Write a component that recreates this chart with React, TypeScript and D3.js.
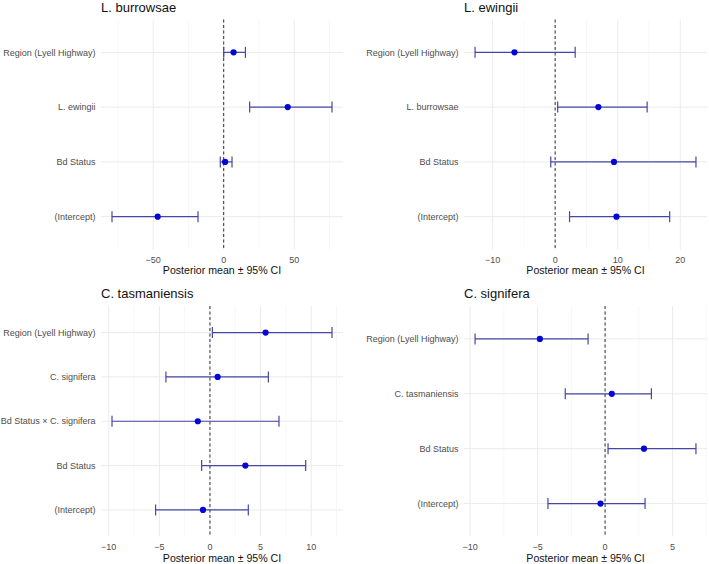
import React from "react";
import * as d3 from "d3";

// ---- Data ----
const burrowsaeTerms = ["Region (Lyell Highway)", "L. ewingii", "Bd Status", "(Intercept)"];
const burrowsaeMean = [7, 45.4, 1, -46.8];
const burrowsaeLo = [0, 18.4, -2.4, -79.2];
const burrowsaeHi = [15.4, 76.8, 5.9, -18.2];

const ewingiiTerms = ["Region (Lyell Highway)", "L. burrowsae", "Bd Status", "(Intercept)"];
const ewingiiMean = [-6.5, 6.9, 9.4, 9.8];
const ewingiiLo = [-12.8, 0.4, -0.7, 2.3];
const ewingiiHi = [3.2, 14.7, 22.5, 18.3];

const tasmaniensisTerms = ["Region (Lyell Highway)", "C. signifera", "Bd Status × C. signifera", "Bd Status", "(Intercept)"];
const tasmaniensisMean = [5.5, 0.76, -1.2, 3.5, -0.69];
const tasmaniensisLo = [0.24, -4.35, -9.68, -0.82, -5.37];
const tasmaniensisHi = [12.06, 5.77, 6.82, 9.46, 3.79];

const signiferaTerms = ["Region (Lyell Highway)", "C. tasmaniensis", "Bd Status", "(Intercept)"];
const signiferaMean = [-4.83, 0.5, 2.88, -0.34];
const signiferaLo = [-9.63, -2.95, 0.22, -4.23];
const signiferaHi = [-1.26, 3.43, 6.73, 2.96];

const titles = ["L. burrowsae", "L. ewingii", "C. tasmaniensis", "C. signifera"];
const xAxisTitle = "Posterior mean ± 95% CI";
const tickValues1 = [-50, 0, 50];
const tickValues2 = [-10, 0, 10, 20];
const tickValues3 = [-10, -5, 0, 5, 10];
const tickValues4 = [-10, -5, 0, 5];

const FONT = "'Liberation Sans', Arial, Helvetica, sans-serif";

type PanelProps = {
  title: string;
  terms: string[];
  mean: number[];
  lo: number[];
  hi: number[];
  ticks: number[];
  x0: number;
  x1: number;
  y0: number;
  y1: number;
  titleY: number;
  tickY: number;
  axisTitleY: number;
};

const fmt = (v: number) => (v < 0 ? "\u2212" + Math.abs(v) : String(v));

function Panel(p: PanelProps) {
  const minV = d3.min(p.lo) as number;
  const maxV = d3.max(p.hi) as number;
  const pad = (maxV - minV) * 0.05;
  const x = d3.scaleLinear().domain([minV - pad, maxV + pad]).range([p.x0, p.x1]);
  const y = d3.scalePoint<string>().domain(p.terms).range([p.y0, p.y1]).padding(0.6);
  const [d0, d1] = x.domain();
  const step = p.ticks[1] - p.ticks[0];
  const minor: number[] = [];
  for (let v = p.ticks[0] - step / 2; v <= d1; v += step) {
    if (v >= d0) minor.push(v);
  }
  const cap = 5.5;
  return (
    <g>
      {minor.map((v, i) => (
        <line key={"mi" + i} x1={x(v)} x2={x(v)} y1={p.y0} y2={p.y1} stroke="#f1f1f1" strokeWidth={0.6} />
      ))}
      {p.ticks.map((v, i) => (
        <line key={"ma" + i} x1={x(v)} x2={x(v)} y1={p.y0} y2={p.y1} stroke="#ebebeb" strokeWidth={1} />
      ))}
      {p.terms.map((t, i) => (
        <line key={"hy" + i} x1={p.x0} x2={p.x1} y1={y(t)} y2={y(t)} stroke="#ebebeb" strokeWidth={1} />
      ))}
      <line x1={x(0)} x2={x(0)} y1={p.y0} y2={p.y1} stroke="#333" strokeWidth={1} strokeDasharray="3,2.5" />
      {p.terms.map((t, i) => {
        const yy = y(t) as number;
        return (
          <g key={"eb" + i} stroke="#4646a6" strokeWidth={1.2}>
            <line x1={x(p.lo[i])} x2={x(p.hi[i])} y1={yy} y2={yy} />
            <line x1={x(p.lo[i])} x2={x(p.lo[i])} y1={yy - cap} y2={yy + cap} />
            <line x1={x(p.hi[i])} x2={x(p.hi[i])} y1={yy - cap} y2={yy + cap} />
          </g>
        );
      })}
      {p.terms.map((t, i) => (
        <circle key={"pt" + i} cx={x(p.mean[i])} cy={y(t) as number} r={3.1} fill="#0505d6" />
      ))}
      {p.terms.map((t, i) => (
        <text key={"yl" + i} x={p.x0 - 5.5} y={(y(t) as number) + 3.2} textAnchor="end" fontSize={9} fill="#4d4d4d" fontFamily={FONT}>
          {t}
        </text>
      ))}
      {p.ticks.map((v, i) => (
        <text key={"xl" + i} x={x(v)} y={p.tickY} textAnchor="middle" fontSize={9} fill="#4d4d4d" fontFamily={FONT}>
          {fmt(v)}
        </text>
      ))}
      <text x={(p.x0 + p.x1) / 2} y={p.axisTitleY} textAnchor="middle" fontSize={10.6} fill="#111" fontFamily={FONT}>
        {xAxisTitle}
      </text>
      <text x={p.x0} y={p.titleY} fontSize={13} fill="#111" fontFamily={FONT}>
        {p.title}
      </text>
    </g>
  );
}

export default function App() {
  return (
    <svg width={709} height={564} style={{ position: "absolute", left: 0, top: 0, background: "#fff" }}>
      <rect x={0} y={0} width={709} height={564} fill="#fff" />
      <Panel title={titles[0]} terms={burrowsaeTerms} mean={burrowsaeMean} lo={burrowsaeLo} hi={burrowsaeHi}
        ticks={tickValues1} x0={101} x1={343} y0={19.5} y1={249.5} titleY={12} tickY={262.5} axisTitleY={274.3} />
      <Panel title={titles[1]} terms={ewingiiTerms} mean={ewingiiMean} lo={ewingiiLo} hi={ewingiiHi}
        ticks={tickValues2} x0={464} x1={707} y0={19.5} y1={249.5} titleY={12} tickY={262.5} axisTitleY={274.3} />
      <Panel title={titles[2]} terms={tasmaniensisTerms} mean={tasmaniensisMean} lo={tasmaniensisLo} hi={tasmaniensisHi}
        ticks={tickValues3} x0={101} x1={343} y0={306} y1={536.5} titleY={298} tickY={549.5} axisTitleY={561.7} />
      <Panel title={titles[3]} terms={signiferaTerms} mean={signiferaMean} lo={signiferaLo} hi={signiferaHi}
        ticks={tickValues4} x0={464} x1={707} y0={306} y1={536.5} titleY={298} tickY={549.5} axisTitleY={561.7} />
    </svg>
  );
}
